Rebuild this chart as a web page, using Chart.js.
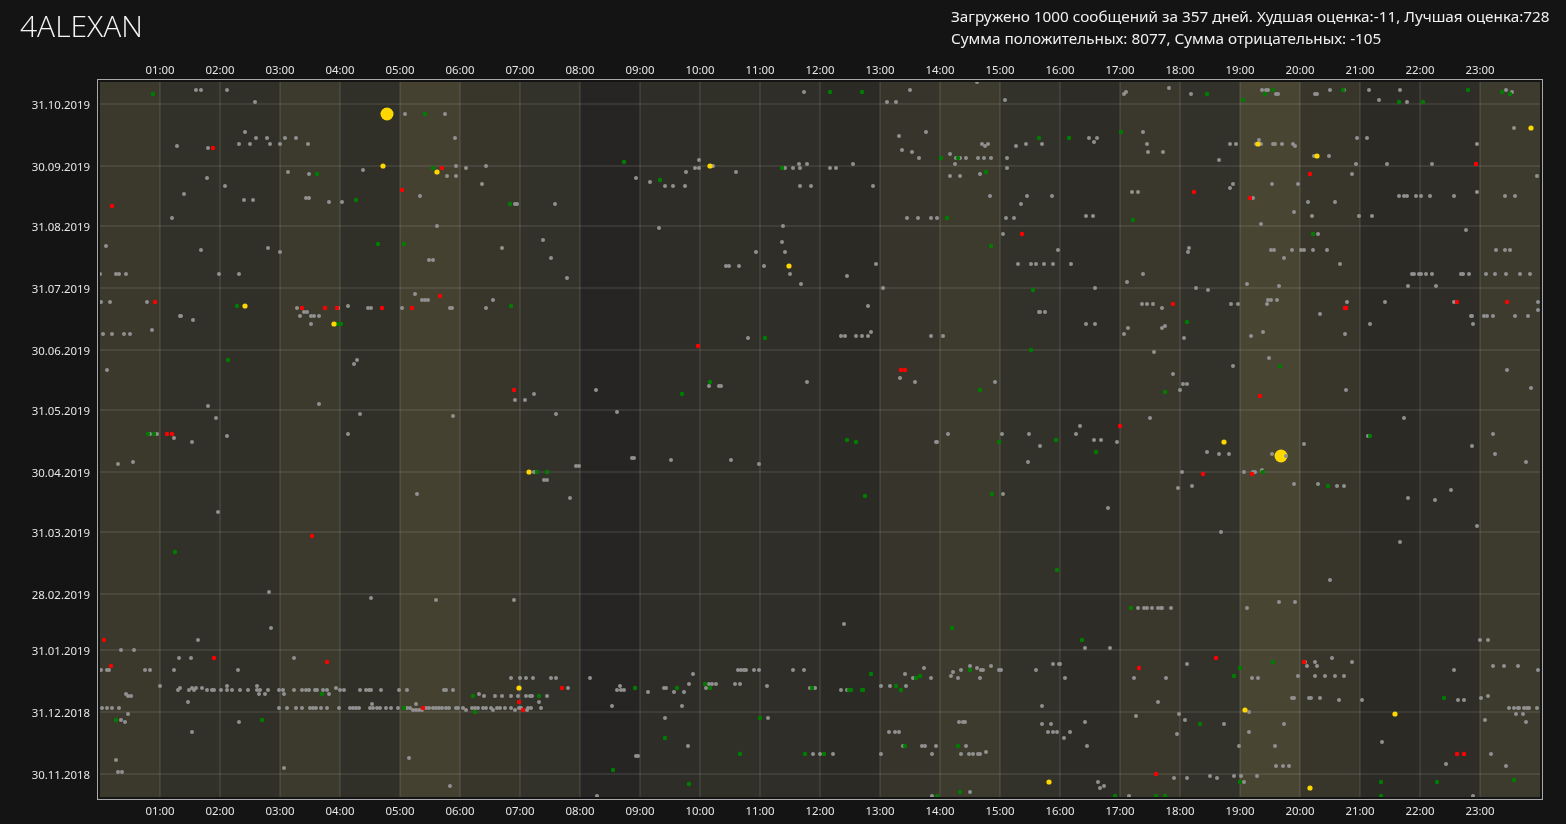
<!DOCTYPE html>
<html>
<head>
<meta charset="utf-8">
<title>4ALEXAN</title>
<script src="https://cdn.jsdelivr.net/npm/chart.js@4"></script>
<style>
  html, body { margin: 0; padding: 0; background: #141414; overflow: hidden; }
  #wrap { position: relative; width: 1566px; height: 824px; }
  #title { position: absolute; left: 20px; top: 5px; font: 300 30px 'Open Sans', sans-serif; color: #f4f4f4; white-space: nowrap; }
  #info { position: absolute; left: 951px; top: 5px; font: 15.3px 'Noto Sans', sans-serif; line-height: 22px; color: #f0f0f0; white-space: nowrap; }
  canvas { position: absolute; left: 0; top: 0; }
</style>
</head>
<body>
<div id="wrap">
  <canvas id="chart" width="1566" height="824"></canvas>
  <div id="title">4ALEXAN</div>
  <div id="info">Загружено 1000 сообщений за 357 дней. Худшая оценка:-11, Лучшая оценка:728<br>Сумма положительных: 8077, Сумма отрицательных: -105</div>
</div>
<script>
// время суток в минутах, дата в днях от 30.11.2018
const hourTicks = [60, 120, 180, 240, 300, 360, 420, 480, 540, 600, 660, 720, 780, 840, 900, 960, 1020, 1080, 1140, 1200, 1260, 1320, 1380];
const hourLabels = ["01:00", "02:00", "03:00", "04:00", "05:00", "06:00", "07:00", "08:00", "09:00", "10:00", "11:00", "12:00",
  "13:00", "14:00", "15:00", "16:00", "17:00", "18:00", "19:00", "20:00", "21:00", "22:00", "23:00"];
const dateLabels = ["31.10.2019", "30.09.2019", "31.08.2019", "31.07.2019", "30.06.2019", "31.05.2019",
  "30.04.2019", "31.03.2019", "28.02.2019", "31.01.2019", "31.12.2018", "30.11.2018"];

// сообщения: [минута, день]
const grayPts = [
  [96,342],[101,342],[127,342],[155,336],[145,321],[156,318],[167,318],[185,318],[196,318],[77,314],[108,313],[139,315],[150,315],[170,315],[180,315],[208,315],
  [305,330],[345,330],[355,318],[188,301],[209,300],[263,302],[356,304],[366,303],[386,304],[347,299],[356,299],[382,295],[107,298],[125,294],[84,290],[144,287],
  [153,287],[206,288],[209,288],[229,286],[242,286],[320,289],[415,285],[417,285],[455,285],[72,278],[337,274],[6,264],[101,262],[168,263],[180,261],[402,263],
  [443,267],[451,258],[329,257],[333,257],[0,250],[16,250],[19,250],[26,250],[119,250],[139,250],[467,248],[1,236],[10,236],[47,236],[315,240],[322,237],
  [325,237],[328,237],[393,237],[197,233],[204,231],[207,231],[200,229],[211,229],[214,229],[219,229],[238,233],[248,234],[268,233],[271,233],[302,233],[350,233],
  [352,233],[386,233],[80,229],[81,229],[93,227],
  [704,341],[877,346],[787,336],[796,336],[810,342],[905,337],[799,319],[826,321],[802,312],[812,311],[819,308],[850,310],[855,305],[856,308],[860,308],[866,308],
  [878,308],[884,308],[891,308],[907,308],[882,315],[885,314],[888,315],[916,314],[926,315],[942,315],[907,303],[850,299],[860,299],[880,300],[890,289],[927,289],
  [952,289],[921,285],[906,278],[914,278],[807,278],[818,278],[831,278],[837,278],[903,270],[958,262],[918,255],[931,255],[936,255],[944,255],[953,255],[939,231],
  [940,231],[945,231],[783,243],[768,234],[776,255],[747,249],[536,298],[550,296],[565,294],[573,294],[585,294],[586,301],[595,303],[599,303],[599,307],[613,304],
  [636,301],[559,273],[685,303],[693,303],[699,305],[700,303],[707,305],[730,303],[736,303],[753,305],[700,294],[711,294],[773,294],[683,274],[682,266],[685,261],
  [656,261],[626,254],[629,254],[639,254],[664,254],[690,250],[701,245],
  [1024,340],[1026,341],[1069,343],[1091,340],[1162,342],[1166,342],[1168,342],[1176,340],[1178,340],[1215,340],[1217,340],[1230,342],[1244,342],[1269,342],
  [1279,337],[1300,342],[1307,336],[1406,342],[1412,341],[1414,323],[989,318],[994,316],[997,318],[1043,321],[1047,315],[1048,311],[1063,311],[1119,307],
  [1130,315],[1136,315],[1156,315],[1159,317],[1161,315],[1173,315],[1175,315],[1182,315],[1193,315],[1195,314],[1214,309],[1229,309],[1257,318],[1267,318],
  [1256,305],[1287,305],[1332,305],[1377,315],[1437,299],[1252,300],[1172,295],[1198,295],[1133,295],[1130,293],[1153,288],[1032,291],[1038,291],[986,279],
  [993,279],[1194,281],[1208,286],[1212,279],[1235,286],[1259,279],[1272,279],[1161,275],[1299,289],[1304,289],[1307,289],[1316,289],[1321,289],[1330,289],
  [1354,289],[1377,291],[1405,289],[1415,289],[1366,272],[1218,270],[1089,263],[1088,261],[1171,262],[1174,262],[1192,262],[1201,262],[1204,262],[1213,262],
  [1227,262],[1184,258],[1240,255],[971,255],[1043,250],[1027,246],[995,243],[1096,243],[1108,242],[1147,245],[1179,244],[1396,262],[1405,262],[1410,262],
  [1312,250],[1314,250],[1319,250],[1321,250],[1326,250],[1332,250],[1361,250],[1363,250],[1369,250],[1386,250],[1395,250],[1406,250],[1420,250],[1430,250],
  [1308,244],[1336,244],[1042,235],[1047,235],[1053,235],[1062,233],[1131,235],[1138,235],[1167,235],[1168,237],[1171,237],[1177,237],[1220,230],[1247,236],
  [1285,236],[1354,236],[1438,236],[1438,232],[1371,229],[1372,229],[1384,229],[1387,229],[1393,229],[1415,229],[1428,229],
  [3,220],[12,220],[24,220],[30,220],[52,222],[211,225],[7,202],[257,207],[254,205],[108,184],[116,178],[219,185],[260,180],[353,179],[415,187],[425,187],
  [434,190],[456,180],[50,170],[57,170],[74,168],[92,166],[127,169],[248,170],[18,155],[33,156],[434,151],[444,147],[447,147],[476,154],[479,154],[317,140],
  [470,138],[118,131],
  [648,218],[741,219],[745,219],[756,219],[762,219],[768,219],[771,221],[831,219],[843,219],[496,192],[517,181],[609,194],[619,194],[621,194],[707,196],[800,198],
  [815,196],[895,196],[836,166],[837,166],[848,170],[902,170],[929,170],[940,164],[928,156],[532,158],[534,158],[571,157],[631,157],[659,155],[903,140],
  [986,225],[995,225],[1028,223],[1024,220],[1062,223],[1065,224],[1084,218],[1151,219],[1163,221],[1245,220],[1270,225],[1373,225],[1054,211],[1133,204],
  [1169,208],[1073,200],[1083,195],[1087,195],[1080,192],[1246,192],[1407,202],[1431,193],[1050,178],[980,174],[976,170],[994,167],[1001,167],[1017,166],
  [1107,161],[1119,160],[1129,160],[1172,160],[1186,159],[1204,165],[1304,178],[1268,169],[1393,170],[1372,164],[1395,160],[1426,156],[1082,151],[1144,151],
  [1153,151],[1155,151],[1162,152],[1078,143],[1092,144],[1194,145],[1218,145],[1237,144],[1244,144],[1308,138],[1335,137],[1351,142],[1008,133],[1121,121],
  [1377,124],[1300,116],
  [169,91],[271,88],[336,87],[414,87],[171,73],[98,67],[21,62],[34,62],[79,58],[91,58],[194,58],[1,52],[7,52],[9,52],[45,52],[50,52],[74,52],[138,52],
  [60,44],[78,42],[80,43],[89,42],[92,43],[94,42],[96,43],[102,43],[107,42],[112,42],[114,42],[121,42],[127,42],[127,44],[132,42],[140,42],[148,42],[157,44],
  [157,42],[160,42],[159,40],[165,40],[168,42],[179,42],[183,42],[184,40],[194,42],[202,42],[206,42],[209,42],[215,42],[217,42],[223,42],[227,42],[229,40],
  [236,43],[240,42],[244,42],[260,42],[266,42],[269,42],[271,42],[281,42],[299,42],[307,42],[344,42],[346,42],[353,42],
  [411,48],[420,48],[426,48],[433,48],[451,48],[456,48],[468,43],[26,40],[28,39],[31,39],[88,36],[379,40],[384,39],[395,39],[402,39],[411,39],[418,39],
  [426,39],[430,39],[432,39],[447,39],[439,36],
  [2,33],[7,33],[12,33],[19,33],[28,30],[179,33],[187,33],[196,33],[202,33],[210,33],[213,33],[216,33],[221,33],[227,33],[239,33],[250,33],[253,33],[256,33],
  [259,33],[270,33],[272,35],[273,33],[277,33],[280,33],[286,33],[291,33],[298,33],[307,33],[310,33],[313,32],[316,35],[316,32],[319,32],[322,32],[326,33],
  [329,33],[333,33],[336,33],[339,33],[342,33],[346,33],[349,33],[356,33],[358,33],[363,33],[366,32],[372,33],[375,33],[378,33],[383,33],[386,33],[391,33],
  [393,32],[397,33],[400,33],[405,33],[411,33],[415,32],[419,33],[421,33],[427,32],[428,33],[431,33],[441,33],
  [21,27],[25,26],[92,21],[139,26],[16,7],[18,1],[22,1],[184,3],[309,8],[350,-6],
  [744,75],[490,48],[520,44],[517,42],[521,42],[524,42],[512,34],[548,41],[564,43],[566,43],[574,41],[584,41],[589,45],[593,50],[582,34],[606,43],[609,45],
  [612,45],[616,45],[635,45],[640,45],[638,52],[641,52],[644,52],[646,52],[654,52],[659,52],[667,44],[693,52],[704,52],[710,43],[715,43],[741,42],[747,42],
  [781,44],[790,44],[806,44],[805,50],[813,48],[824,53],[831,48],[851,49],[853,51],[858,48],[861,52],[870,54],[877,53],[880,48],[881,52],[883,52],[891,54],
  [899,52],[901,52],[936,52],[953,55],[959,55],[942,34],[942,25],[951,25],[948,21],[953,21],[957,21],[565,28],[668,28],[588,14],[536,9],[538,9],[713,10],
  [720,10],[733,10],[781,10],[789,21],[795,21],[799,21],[803,14],[822,14],[825,14],[836,14],[832,10],[859,26],[863,26],[865,26],[866,14],[861,10],[869,10],
  [873,10],[878,10],[880,10],[886,11],[497,-11],[832,-11],[870,-9],
  [1230,97],[1179,86],[1195,86],[1038,83],[1044,83],[1047,83],[1052,83],[1058,83],[1061,83],[1062,83],[1071,83],[1147,83],[985,63],[1010,63],[1380,67],
  [1388,67],[960,55],[965,48],[1034,48],[1066,48],[1087,55],[1152,48],[1158,48],[1205,56],[1215,56],[1207,54],[1217,54],[1232,58],[1252,56],[1198,49],
  [1215,49],[1225,49],[1235,49],[1244,49],[1354,52],[1393,54],[1404,54],[1418,54],[1438,52],[1058,36],[1192,38],[1194,38],[1209,38],[1211,38],[1220,38],
  [1239,37],[1262,37],[1358,37],[1364,37],[1381,38],[1388,39],[1409,33],[1414,33],[1418,33],[1419,33],[1424,33],[1427,33],[1429,33],[1437,33],[1416,30],
  [1423,30],[1426,26],[1385,27],[1079,30],[1036,29],[1085,27],[1124,25],[1149,31],[1184,25],[985,26],[970,21],[964,18],[1077,20],[1149,21],[987,14],
  [1139,14],[1175,14],[1282,16],[1391,10],[1346,5],[1406,4],[1176,4],[1183,4],[1189,4],[1074,-2],[1087,-2],[1110,-1],[1117,-2],[1134,-1],[1141,-1],
  [1157,-1],[1144,-4],[998,-4],[1004,-6],[1000,-7],[1029,-11],[1373,-11]
];
const greenPts = [
  [53,340],[325,330],[217,300],[256,287],[333,303],[278,265],[304,265],[410,285],[137,234],[411,234],
  [524,306],[560,297],[682,303],[730,341],[762,341],[841,308],[858,308],[886,301],[939,318],[847,278],[891,264],[933,242],
  [1107,340],[1165,340],[1173,342],[1143,337],[1243,342],[1299,336],[1323,336],[1368,342],[1402,341],[1410,340],[969,318],[1021,321],[1033,277],[1213,270],
  [128,207],[237,225],[241,225],[48,170],[54,170],[437,151],[447,151],[75,111],
  [665,218],[582,190],[610,196],[931,212],[880,192],[747,167],[756,166],[899,166],[956,167],[765,139],[892,140],
  [1087,226],[1180,204],[1065,191],[996,161],[1163,151],[1270,169],[1228,144],
  [16,27],[162,27],[222,40],[304,33],[373,39],[375,31],[439,39],
  [957,102],[852,73],[535,43],[577,43],[605,45],[610,43],[712,43],[749,42],[751,42],[762,42],[763,42],[771,50],[796,44],[801,42],[816,48],[820,49],[870,52],
  [660,28],[565,18],[640,10],[705,10],[724,10],[805,14],[858,14],[513,2],[589,-5],[837,-11],[860,-9],
  [982,67],[1031,83],[1140,53],[1134,49],[1173,56],[1344,38],[1100,25],[1140,-4],[1281,-4],[1337,-4],[1414,-3],[1015,-11],[1056,-11],[1065,-11],[1281,-11]
];
const redPts = [
  [113,313],[342,303],[12,284],[302,292],[55,236],[340,239],[202,233],[225,233],[237,233],[282,233],[312,233],
  [922,270],[1210,300],[1094,291],[1150,288],[1376,305],[1073,235],[1245,233],[1246,233],[1357,236],[1407,236],
  [414,192],[67,170],[72,170],[212,119],[598,214],[801,202],[805,202],[1160,189],[1020,174],[1103,150],[1152,150],
  [4,67],[11,54],[114,58],[227,56],[323,33],[419,36],[423,32],[462,43],
  [1116,58],[1039,53],[1204,56],[1056,0],[1357,10],[1364,10]
];
const yellowPts = [
  [283,304],[337,301],[145,234],[610,304],[689,254],[1431,323],[1158,315],[1217,309],
  [234,225],[429,151],[1124,166],[419,43],[949,-4],[1145,32],[1295,30],[1210,-7]
];
const bigPts = [[287,330],[1181,159]];

// заливка колонок по часам
const hourShade = ["#3b392c", "#323129", "#302f28", "#3c3a2d", "#302f28", "#444131", "#38362b", "#33322a",
  "#262523", "#2e2d27", "#302f28", "#2f2e28", "#2b2a25", "#37352b", "#3d3b2e", "#33322a",
  "#2d2c26", "#3a382c", "#33322a", "#484533", "#38362b", "#2b2a25", "#2e2d27", "#3d3b2e"];

const baseDay = Date.UTC(2018, 10, 30);
const dayOf = s => {
  const [d, m, y] = s.split(".").map(Number);
  return (Date.UTC(y, m - 1, d) - baseDay) / 86400000;
};
const dateTicks = dateLabels.map(dayOf);
const toXY = pts => pts.map(p => ({ x: p[0], y: p[1] }));

const columns = {
  id: "columns",
  beforeDraw(chart) {
    const { ctx, chartArea: a, scales: { x } } = chart;
    ctx.save();
    for (let h = 0; h < 24; h++) {
      const x0 = x.getPixelForValue(h * 60);
      const x1 = x.getPixelForValue((h + 1) * 60);
      ctx.fillStyle = hourShade[h];
      ctx.fillRect(x0, a.top, x1 - x0, a.bottom - a.top);
    }
    ctx.strokeStyle = "#a9a9a9";
    ctx.lineWidth = 1;
    ctx.strokeRect(a.left - 2.5, a.top - 2.5, a.width + 5, a.height + 5);
    ctx.restore();
  }
};

const tickFont = { family: "Noto Sans", size: 11.4 };
const gridStyle = { color: "rgba(255,255,255,0.08)", lineWidth: 2, drawTicks: false };

const hourAxis = (pos, height) => ({
  type: "linear",
  axis: "x",
  position: pos,
  min: 0,
  max: 1440,
  afterBuildTicks: s => { s.ticks = hourTicks.map(v => ({ value: v })); },
  afterFit: s => { s.height = height; },
  ticks: {
    callback: v => hourLabels[hourTicks.indexOf(v)],
    color: "#e6e6e6",
    font: tickFont,
    padding: pos === "bottom" ? 8 : 4,
    maxRotation: 0,
    autoSkip: false
  },
  grid: pos === "bottom" ? gridStyle : { display: false, drawTicks: false },
  border: { display: false }
});

new Chart(document.getElementById("chart"), {
  type: "scatter",
  data: {
    datasets: [
      { data: toXY(yellowPts), backgroundColor: "#ffd700", pointRadius: 2.6, order: 1 },
      { data: toXY(redPts), backgroundColor: "#ff0000", pointRadius: 2.2, order: 2 },
      { data: toXY(greenPts), backgroundColor: "#007d00", pointRadius: 2.2, order: 3 },
      { data: toXY(grayPts), backgroundColor: "#909090", pointRadius: 2, order: 4 },
      { data: toXY(bigPts), backgroundColor: "#ffd700", pointRadius: 6.5, order: 5 }
    ]
  },
  options: {
    responsive: false,
    animation: false,
    devicePixelRatio: 1,
    layout: { padding: { top: 0, right: 26, bottom: 0, left: 0 } },
    elements: { point: { borderWidth: 0, hoverRadius: 2 } },
    plugins: { legend: { display: false }, tooltip: { enabled: false } },
    scales: {
      x: hourAxis("bottom", 27),
      x2: hourAxis("top", 82),
      y: {
        type: "linear",
        min: -11.5,
        max: 346,
        afterBuildTicks: s => { s.ticks = dateTicks.map(v => ({ value: v })); },
        afterFit: s => { s.width = 100; },
        ticks: {
          callback: v => dateLabels[dateTicks.indexOf(v)],
          color: "#e6e6e6",
          font: tickFont,
          padding: 10,
          labelOffset: 2,
          autoSkip: false
        },
        grid: gridStyle,
        border: { display: false }
      }
    }
  },
  plugins: [columns]
});
</script>
</body>
</html>
